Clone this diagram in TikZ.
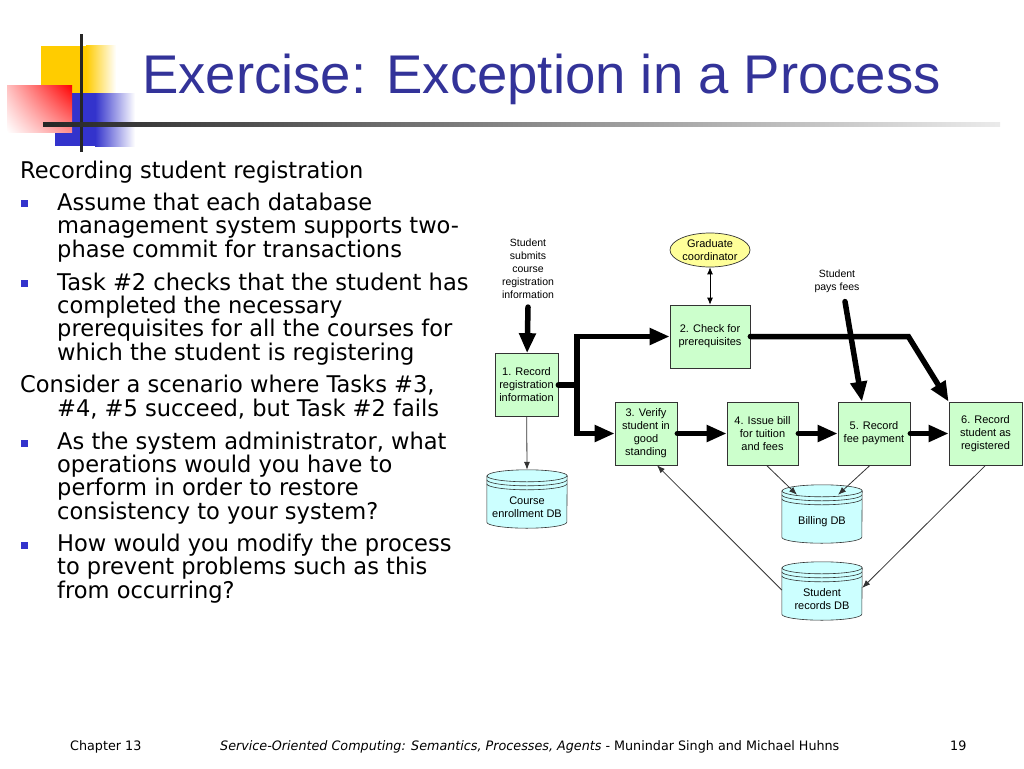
\documentclass[tikz,border=0pt]{standalone}
\usepackage{fontspec}
\setmainfont{Liberation Sans}
\newfontfamily\slidefont[FakeStretch=0.98]{DejaVu Sans}
\usepackage{tikz}
\usetikzlibrary{arrows.meta,positioning,shapes.geometric,backgrounds,shadings}
\definecolor{TitleBlue}{HTML}{333399}
\definecolor{BulletBlue}{HTML}{3333CC}
\definecolor{LogoYellow}{HTML}{FFCC00}
\definecolor{LogoBlue}{HTML}{3333CC}
\definecolor{LogoRed}{HTML}{FF0000}
\definecolor{TaskGreen}{HTML}{CCFFCC}
\definecolor{DbCyan}{HTML}{CCFFFF}
\definecolor{CoordYellow}{HTML}{FFFF99}
\definecolor{Edge}{HTML}{333333}

\begin{document}
\begin{tikzpicture}[x=1pt,y=1pt,
  task/.style={draw=Edge,fill=TaskGreen,line width=0.7pt,align=center,inner sep=0pt,minimum height=63pt,font=\fontsize{11}{13}\selectfont},
  db/.style={align=center,inner sep=0pt,minimum width=80pt,minimum height=42pt,font=\fontsize{11}{13}\selectfont},
  actor/.style={ellipse,draw=Edge,fill=CoordYellow,line width=0.7pt,inner sep=0pt,minimum width=80pt,minimum height=34pt,align=center,font=\fontsize{11}{13}\selectfont},
  note/.style={align=center,inner sep=0pt,font=\fontsize{10.5}{13}\selectfont},
  body/.style={anchor=base west,align=left,inner sep=0pt,font=\slidefont\fontsize{23}{23.3}\selectfont},
  bullet/.style={fill=BulletBlue,inner sep=0pt,minimum size=7pt},
  footer/.style={anchor=base west,inner sep=0pt,font=\slidefont\fontsize{13}{15}\selectfont},
  bigarrow/.style={-{Triangle[length=20pt,width=16pt]},line width=5.5pt,line cap=round},
  thinarrow/.style={-{Latex[length=8pt,width=6pt]},line width=0.8pt,draw=Edge},
  duoarrow/.style={{Latex[length=7pt,width=6pt]}-{Latex[length=7pt,width=6pt]},line width=0.8pt}
]
\useasboundingbox (0,0) rectangle (1024,-768);

% logo
\fill[LogoYellow] (41,-46) rectangle (86,-93);
\shade[left color=LogoYellow,right color=white] (86,-46) rectangle (116,-93);
\fill[LogoBlue] (55,-93) rectangle (95,-146);
\shade[left color=LogoBlue,right color=white] (95,-93) rectangle (135,-146);
\shade[upper left=LogoRed!25,upper right=LogoRed,lower left=white,lower right=LogoRed!45] (7,-85) rectangle (72,-132);
\fill[black!85] (79.5,-34) rectangle (82.5,-152);
\shade[left color=black!85,right color=black!8] (43,-122.5) rectangle (1000,-126);

\node[anchor=base west,inner sep=0pt,text=TitleBlue,font=\fontsize{54.5}{60}\selectfont] (title) at (142,-93) {Exercise: Exception in a Process};

% slide text (base = last line)
\node[body] (intro) at (20,-178) {Recording student registration};
\node[body] (assume) at (57,-257) {Assume that each database\\management system supports two-\\phase commit for transactions};
\node[body] (task) at (57,-360) {Task \#2 checks that the student has\\completed the necessary\\prerequisites for all the courses for\\which the student is registering};
\node[body] (consider) at (20,-416) {Consider a scenario where Tasks \#3,\\\hspace*{37pt}\#4, \#5 succeed, but Task \#2 fails};
\node[body] (admin) at (57,-519) {As the system administrator, what\\operations would you have to\\perform in order to restore\\consistency to your system?};
\node[body] (modify) at (57,-598) {How would you modify the process\\to prevent problems such as this\\from occurring?};
\node[bullet] (dot1) at (24,-203.5) {};
\node[bullet] (dot2) at (24,-283.5) {};
\node[bullet] (dot3) at (24,-443.5) {};
\node[bullet] (dot4) at (24,-545.5) {};

% process
\node[note] (submit) at (528,-269) {Student\\submits\\course\\registration\\information};
\node[note] (pays) at (837,-281) {Student\\pays fees};
\node[actor] (coord) at (710,-250) {Graduate\\coordinator};
\node[task,minimum width=63pt] (box1) at (526.5,-385) {1. Record\\registration\\information};
\node[task,minimum width=80pt] (box2) at (710,-336.5) {2. Check for\\prerequisites};
\node[task,minimum width=62pt] (box3) at (646,-433.5) {3. Verify\\student in\\good\\standing};
\node[task,minimum width=71pt] (box4) at (762.5,-433.5) {4. Issue bill\\for tuition\\and fees};
\node[task,minimum width=72pt] (box5) at (874,-433.5) {5. Record\\fee payment};
\node[task,minimum width=73pt] (box6) at (985.5,-433.5) {6. Record\\student as\\registered};
\node[db] (cdb) at (527,-507) {Course\\enrollment DB};
\node[db] (bdb) at (822,-522) {Billing DB};
\node[db] (sdb) at (822,-599) {Student\\records DB};

\begin{scope}[on background layer]
\fill[white] (0,0) rectangle (1024,-768);
\foreach \db in {cdb,bdb,sdb}{
  \filldraw[draw=Edge,fill=DbCyan,line width=0.6pt] ([yshift=10pt]\db.north west) -- ([yshift=6pt]\db.south west)
    arc[start angle=180,end angle=360,x radius=40pt,y radius=6pt] -- ([yshift=10pt]\db.north east)
    arc[start angle=0,end angle=180,x radius=40pt,y radius=6pt] -- cycle;
  \foreach \dy in {10,6,2}
    \draw[Edge,line width=0.6pt] ([yshift=\dy pt]\db.north west) arc[start angle=180,end angle=360,x radius=40pt,y radius=6pt];
}
\end{scope}

\coordinate[right=18.5pt of box1.east] (split);
\coordinate[right=158pt of box2.east] (bend);

\draw[bigarrow] ([yshift=-8pt]submit.south) -- (box1);
\draw[bigarrow] (box1.east) -- (split) |- (box2);
\draw[bigarrow] (split) |- (box3);
\draw[bigarrow] (box3) -- (box4);
\draw[bigarrow] (box4) -- (box5);
\draw[bigarrow] (box5) -- (box6);
\draw[bigarrow] (box2.east) -- (bend) -- (box6.north west);
\draw[bigarrow] ([xshift=8pt,yshift=-9pt]pays.south) -- ([xshift=-12pt]box5.north);
\draw[duoarrow] (coord) -- (box2);
\draw[thinarrow] (box1) -- ([yshift=16pt]cdb.north);
\draw[thinarrow] ([xshift=4pt]box4.south) -- ([xshift=-25pt,yshift=6pt]bdb.north);
\draw[thinarrow] ([xshift=-4pt]box5.south) -- ([xshift=16pt,yshift=6pt]bdb.north);
\draw[thinarrow] ([yshift=9pt]sdb.west) -- ([xshift=11pt]box3.south);
\draw[thinarrow] (box6.south) -- ([yshift=11pt]sdb.east);

% footer
\node[footer] (chapter) at (70,-750) {Chapter 13};
\node[footer] (book) at (220,-750) {\itshape Service-Oriented Computing: Semantics, Processes, Agents\upshape{} - Munindar Singh and Michael Huhns};
\node[footer] (page) at (950,-750) {19};
\end{tikzpicture}
\end{document}
